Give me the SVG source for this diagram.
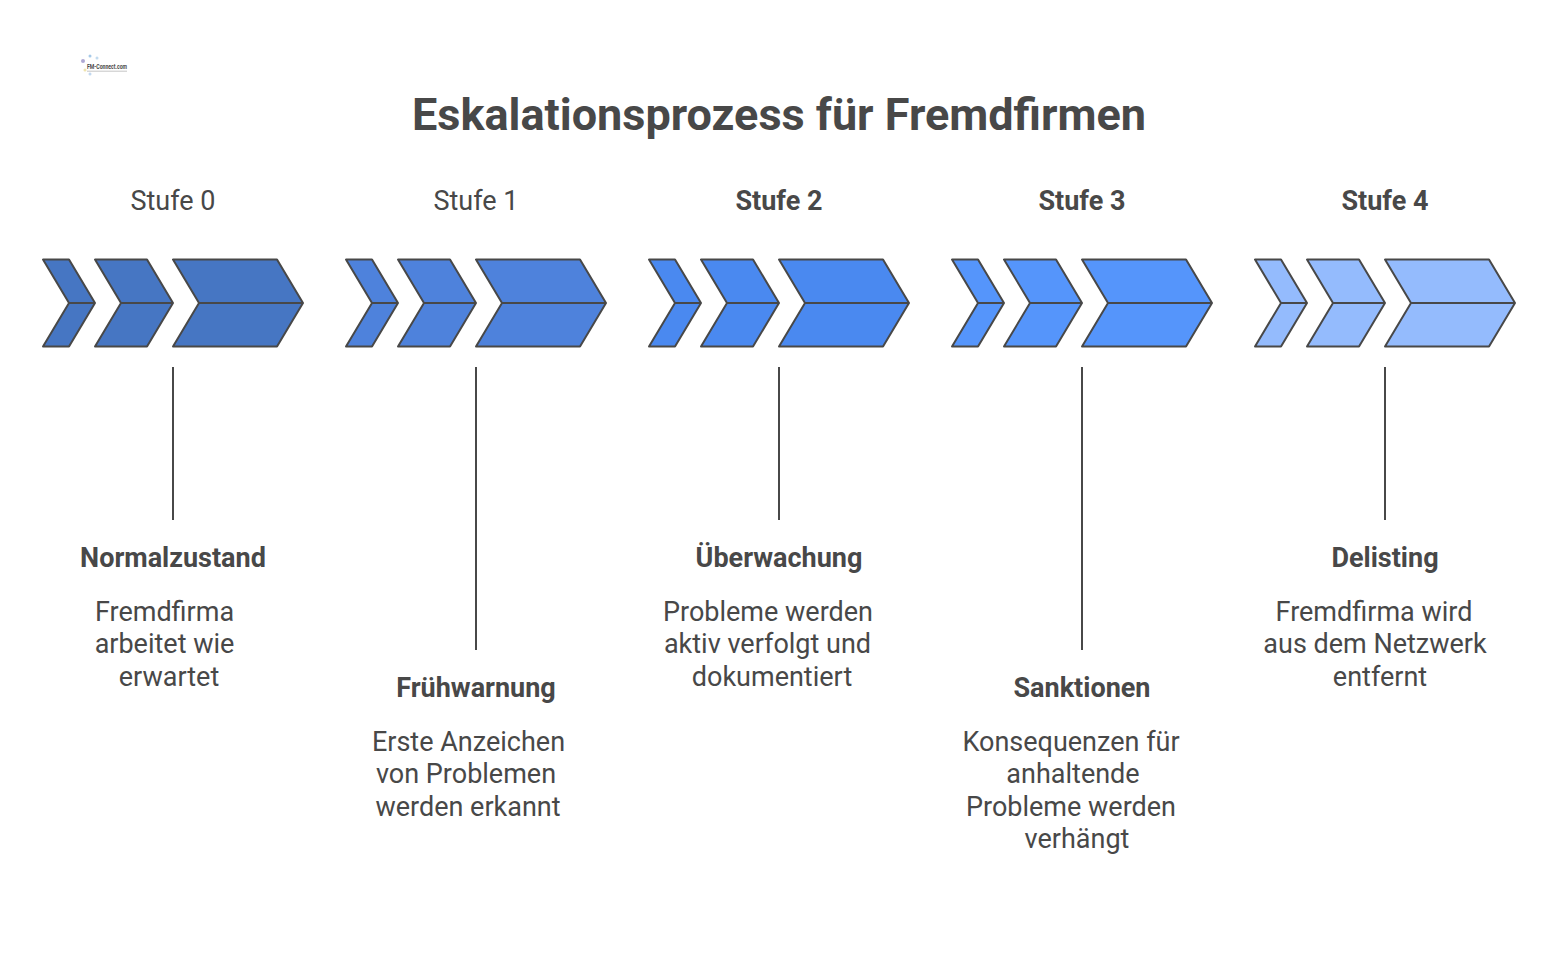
<svg xmlns="http://www.w3.org/2000/svg" width="1558" height="963" viewBox="0 0 1558 963">
<style>
text{font-family:Roboto,"Liberation Sans",sans-serif;fill:#484848}
.title{font-size:45px;font-weight:700;text-anchor:middle}
.st{font-size:27px;text-anchor:middle}
.stb{font-size:27px;font-weight:700;text-anchor:middle}
.h{font-size:27px;font-weight:700;text-anchor:middle}
.b{font-size:27px;text-anchor:middle}
.c{stroke:#484848;stroke-width:2;stroke-linejoin:round}
.ln{stroke:#484848;stroke-width:2;fill:none}
</style>
<defs>
<g id="arrows">
<path class="c" d="M0 0H26L52 43.500L26 87H0L26 43.500Z"/>
<path class="c" d="M52 0H104L130 43.500L104 87H52L78 43.500Z"/>
<path class="c" d="M130 0H234L260 43.500L234 87H130L156 43.500Z"/>
<path class="ln" d="M26 43.500H52M78 43.500H130M156 43.500H260"/>
</g>
</defs>
<rect width="1558" height="963" fill="#fff"/>
<g id="logo">
<circle cx="83" cy="61" r="2" fill="#7a6fb5" opacity=".6"/><circle cx="90" cy="56" r="1.500" fill="#6aa5d8" opacity=".6"/><circle cx="97" cy="58" r="1.500" fill="#6aa5d8" opacity=".4"/><circle cx="85" cy="70" r="1.500" fill="#e8d98a" opacity=".7"/><circle cx="90" cy="74" r="1.500" fill="#a8c8e8" opacity=".7"/>
<text x="87" y="68.500" textLength="40" lengthAdjust="spacingAndGlyphs" style="font-size:8px;font-weight:700">FM-Connect.com</text>
<path d="M87 71.200H127" stroke="#888" stroke-width=".8" opacity=".6"/>
</g>
<text class="title" x="779" y="130">Eskalationsprozess für Fremdfirmen</text>
<g id="stage0"><text class="st" x="173" y="210">Stufe 0</text><use href="#arrows" x="43" y="259.500" fill="#4676c3"/></g>
<g id="stage1"><text class="st" x="476" y="210">Stufe 1</text><use href="#arrows" x="346" y="259.500" fill="#4e82dc"/></g>
<g id="stage2"><text class="stb" x="779" y="210">Stufe 2</text><use href="#arrows" x="649" y="259.500" fill="#4a89f0"/></g>
<g id="stage3"><text class="stb" x="1082" y="210">Stufe 3</text><use href="#arrows" x="952" y="259.500" fill="#5595fb"/></g>
<g id="stage4"><text class="stb" x="1385" y="210">Stufe 4</text><use href="#arrows" x="1255" y="259.500" fill="#94bbfd"/></g>
<g id="connectors">
<path class="ln" d="M173 367V520M476 367V650M779 367V520M1082 367V650M1385 367V520"/>
</g>
<g id="desc0"><text class="h" x="173" y="567">Normalzustand</text><text class="b" x="164.500" y="621">Fremdfirma</text><text class="b" x="164.500" y="653">arbeitet wie</text><text class="b" x="169" y="686">erwartet</text></g>
<g id="desc1"><text class="h" x="476" y="697">Frühwarnung</text><text class="b" x="468.500" y="751">Erste Anzeichen</text><text class="b" x="466" y="783">von Problemen</text><text class="b" x="468" y="816">werden erkannt</text></g>
<g id="desc2"><text class="h" x="779" y="567">Überwachung</text><text class="b" x="768" y="621">Probleme werden</text><text class="b" x="767.500" y="653">aktiv verfolgt und</text><text class="b" x="772" y="686">dokumentiert</text></g>
<g id="desc3"><text class="h" x="1082" y="697">Sanktionen</text><text class="b" x="1071" y="751">Konsequenzen für</text><text class="b" x="1073" y="783">anhaltende</text><text class="b" x="1071" y="816">Probleme werden</text><text class="b" x="1077" y="848">verhängt</text></g>
<g id="desc4"><text class="h" x="1385" y="567">Delisting</text><text class="b" x="1374" y="621">Fremdfirma wird</text><text class="b" x="1375" y="653">aus dem Netzwerk</text><text class="b" x="1380" y="686">entfernt</text></g>
</svg>
